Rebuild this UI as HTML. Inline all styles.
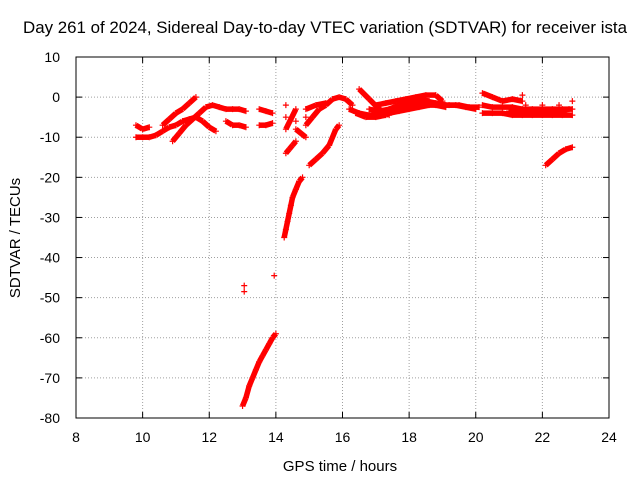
<!DOCTYPE html>
<html><head><meta charset="utf-8"><style>
body{margin:0;background:#fff}
svg{display:block;font-family:"Liberation Sans",sans-serif}
</style></head><body>
<svg id="chart" width="640" height="480" viewBox="0 0 640 480">
<rect width="640" height="480" fill="#fff"/>
<text x="325" y="33" font-size="17" text-anchor="middle" textLength="604" lengthAdjust="spacingAndGlyphs">Day 261 of 2024, Sidereal Day-to-day VTEC variation (SDTVAR) for receiver ista</text>
<text x="340" y="471" font-size="15" text-anchor="middle">GPS time / hours</text>
<text transform="translate(20,238) rotate(-90)" font-size="15" text-anchor="middle">SDTVAR / TECUs</text>
<g id="grid"></g><g id="ticks"></g><g id="marks"></g>
<rect x="76" y="57" width="533" height="361" fill="none" stroke="#000" stroke-width="1"/>
</svg>
<script>
const xTicks=[8,10,12,14,16,18,20,22,24];
const yTicks=[10,0,-10,-20,-30,-40,-50,-60,-70,-80];
const trackXs=[
[13.0,13.1,13.2,13.3,13.4,13.5,13.6,13.7,13.8,13.9,14.0],
[13.05,13.05,13.95],
[14.25,14.3,14.35,14.4,14.45,14.5,14.6,14.7,14.8],
[14.3,14.4,14.5,14.6],
[15.0,15.2,15.4,15.6,15.8,15.9],
[22.1,22.3,22.5,22.7,22.9],
[9.8,10.0,10.2],
[9.8,10.0,10.2,10.4,10.6,10.8,11.0,11.2,11.4,11.6,11.8,12.0,12.2],
[10.6,10.8,11.0,11.2,11.4,11.6],
[10.9,11.1,11.3,11.5,11.7,11.9,12.1,12.3,12.5,12.7,12.9,13.1],
[12.5,12.7,12.9,13.1],
[13.5,13.7,13.9,13.5,13.7,13.9],
[14.3,14.3,14.3,14.6,14.6,14.6,14.9,14.9],
[14.9,15.1,15.3,15.5,15.7,15.9,16.1,16.3],
[14.9,15.2,15.5],
[16.2,16.5,16.8,17.1,17.4,17.7,18.0,18.3,18.6,18.9,19.2,19.5,19.8,20.1],
[16.5,16.8,17.1,17.4],
[17.0,17.3,17.6,17.9,18.2,18.5,18.8,19.0],
[20.2,20.5,20.8,21.1,21.4,21.7,22.0,22.3,22.6,22.9],
[20.2,20.5,20.8,21.1,21.4,21.7,22.0,22.3,22.6,22.9],
[20.2,20.5,20.8,21.1,21.4,21.4],
[21.5,22.0,22.5,22.9],
[16.4,16.7,17.0,17.3,17.6,17.9,18.2,18.5,18.8,19.1],
[16.8,17.1,17.4,17.7,18.0,18.3,18.6],
[17.6,17.9,18.2,18.5,18.8,19.1,19.4,19.7,20.0],
[21.0,21.3,21.6,21.9,22.2,22.5,22.8]
];
const trackYs=[
[-77,-75,-72,-70,-68,-66,-64.5,-63,-61.5,-60,-59],
[-47,-48.5,-44.5],
[-35,-33,-31,-29,-27,-25,-23,-21,-20],
[-14,-13,-12,-11],
[-17,-15.5,-14,-12,-8,-7],
[-17,-15.5,-14,-13,-12.5],
[-7,-8,-7.5],
[-10,-10,-10,-9.5,-8.5,-7.5,-7,-6,-5.5,-5,-6,-7.5,-8.5],
[-7,-5.5,-4,-3,-1.5,0],
[-11,-9,-7,-5.5,-4,-2.5,-2,-2.5,-3,-3,-3,-3.5],
[-6,-7,-7,-7.5],
[-3,-3.5,-4,-7,-7,-6.5],
[-2,-5,-8,-3,-6,-8,-10,-5],
[-7,-5,-3,-2,-0.5,0,-0.5,-2],
[-3,-2,-1.5],
[-3,-4,-4.5,-4.5,-4,-3.5,-3,-2.5,-2,-2,-2,-2,-2.5,-2.5],
[2,-0.5,-3,-4.5],
[-2,-1.5,-1,-0.5,0,0.5,0.5,-1],
[-2,-2.5,-2.5,-2.5,-3,-3,-3,-3,-3,-3],
[-4,-4,-4,-4.5,-4.5,-4.5,-4.5,-4.5,-4.5,-4.5],
[1,0,-1,-0.5,-1,0.5],
[-2,-2,-2,-1],
[-4,-5,-5,-4.5,-3,-2,-1,-1.5,-2,-2.5],
[-3,-3.5,-3,-2,-1,-0.5,-1],
[-3,-2.5,-1.5,-1,-1.5,-2,-2,-2.5,-3],
[-3.5,-3.5,-4,-3.5,-3.5,-3.5,-3]
];
const NS="http://www.w3.org/2000/svg";
const X0=76,X1=609,Y0=57,Y1=418;
function xs(v){return X0+(v-8)/(24-8)*(X1-X0);}
function ys(v){return Y0+(10-v)/(90)*(Y1-Y0);}
const grid=document.getElementById('grid'),ticks=document.getElementById('ticks'),marks=document.getElementById('marks');
function mk(t,a,p){const e=document.createElementNS(NS,t);for(const k in a)e.setAttribute(k,a[k]);p.appendChild(e);return e;}
xTicks.forEach(v=>{const x=xs(v);
 if(v>8&&v<24){const g=mk('line',{x1:x,x2:x,y1:Y0,y2:Y1,stroke:'#a0a0a0','stroke-dasharray':'1,2'},grid);
 
 }
 mk('line',{x1:x,x2:x,y1:Y1,y2:Y1-6,stroke:'#000'},ticks);mk('line',{x1:x,x2:x,y1:Y0,y2:Y0+6,stroke:'#000'},ticks);
 const t=mk('text',{x:x,y:Y1+24,'font-size':14,'text-anchor':'middle'},ticks);t.textContent=v;
 
 });
yTicks.forEach(v=>{const y=ys(v);
 if(v<10&&v>-80){const g=mk('line',{x1:X0,x2:X1,y1:y,y2:y,stroke:'#a0a0a0','stroke-dasharray':'1,2'},grid);
 
 }
 mk('line',{x1:X0,x2:X0+6,y1:y,y2:y,stroke:'#000'},ticks);mk('line',{x1:X1,x2:X1-6,y1:y,y2:y,stroke:'#000'},ticks);
 const t=mk('text',{x:X0-16,y:y+5,'font-size':14,'text-anchor':'end'},ticks);t.textContent=v;
 
 });
trackXs.forEach((tx,i)=>{const ty=trackYs[i];
 const g=mk('g',{stroke:'#f00','stroke-width':1.2},marks);
 
 
 tx.forEach((xv,j)=>{const x=xs(xv),y=ys(ty[j]);
  const p=mk('path',{d:`M${x-3},${y}h6M${x},${y-3}v6`},g);
  
  });
 for(let j=0;j+1<tx.length;j++){if(Math.abs(tx[j+1]-tx[j])<0.35&&tx[j+1]!==tx[j]){
  const l=mk('line',{x1:xs(tx[j]),y1:ys(ty[j]),x2:xs(tx[j+1]),y2:ys(ty[j+1]),'stroke-width':5.5},g);
  
  }}
});
</script>
</body></html>
